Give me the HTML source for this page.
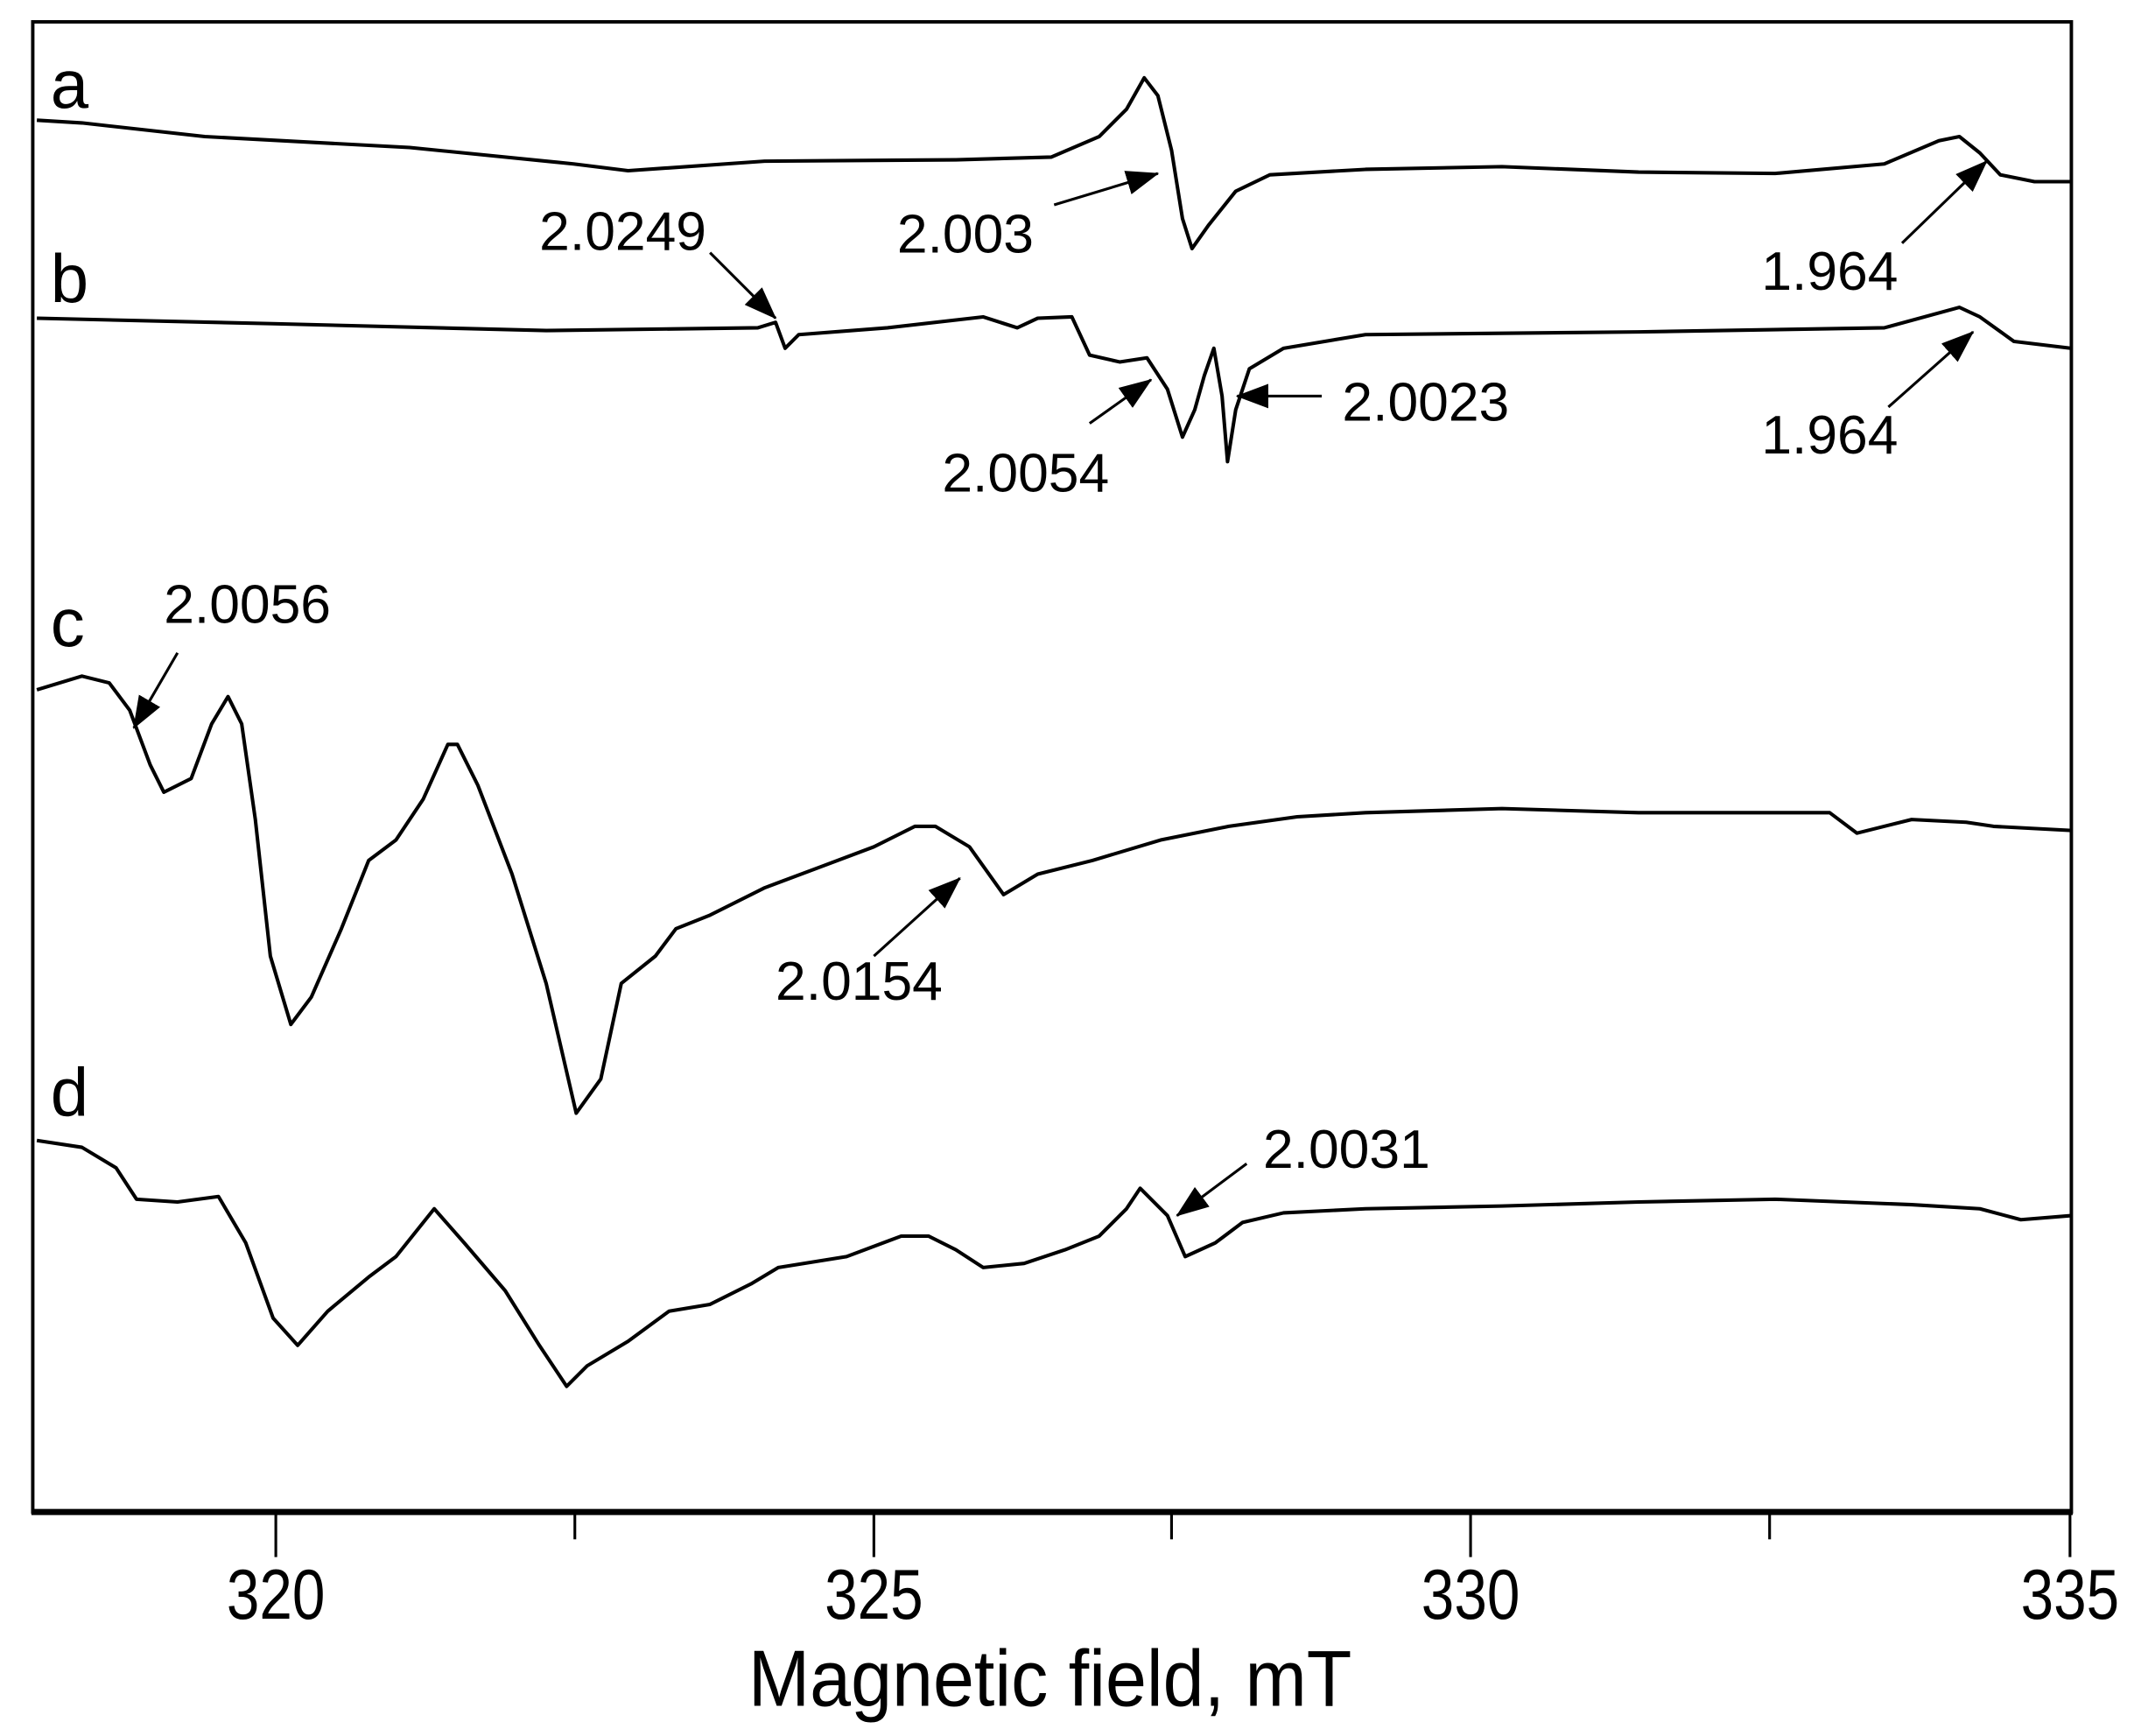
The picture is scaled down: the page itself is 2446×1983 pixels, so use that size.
<!DOCTYPE html>
<html><head><meta charset="utf-8"><style>html,body{margin:0;padding:0;background:#fff}svg{display:block}</style></head>
<body>
<svg width="2446" height="1983" viewBox="0 0 1568 1271" preserveAspectRatio="none" xmlns="http://www.w3.org/2000/svg">
<defs>
<marker id="ah2" markerWidth="24" markerHeight="18" refX="23" refY="9" orient="auto" markerUnits="userSpaceOnUse"><path d="M0,0 L24,9 L0,18 z" fill="#000"/></marker></defs>
<rect x="24" y="16" width="1493" height="1091" fill="none" stroke="#000" stroke-width="2.5"/>
<line x1="23" y1="1107" x2="1518" y2="1107" stroke="#000" stroke-width="4.5"/>
<g stroke="#000" stroke-width="2">
<line x1="202" y1="1107" x2="202" y2="1140"/><line x1="640" y1="1107" x2="640" y2="1140"/><line x1="1077" y1="1107" x2="1077" y2="1140"/><line x1="1516" y1="1107" x2="1516" y2="1140"/>
<line x1="421" y1="1107" x2="421" y2="1127"/><line x1="858" y1="1107" x2="858" y2="1127"/><line x1="1296" y1="1107" x2="1296" y2="1127"/>
</g>
<g font-family="Liberation Sans, Arial, sans-serif" fill="#000">
<g font-size="47" text-anchor="middle"><text transform="translate(202,1185) scale(0.92,1.1)">320</text><text transform="translate(640,1185) scale(0.92,1.1)">325</text><text transform="translate(1077,1185) scale(0.92,1.1)">330</text><text transform="translate(1516,1185) scale(0.92,1.1)">335</text></g>
<text transform="translate(548,1249) scale(1,1.08)" font-size="54" textLength="442" lengthAdjust="spacingAndGlyphs">Magnetic field, mT</text>
<g font-size="50"><text x="37" y="79">a</text><text x="37" y="221">b</text><text x="37" y="473">c</text><text x="37" y="817">d</text></g>
<g font-size="40">
<text x="657" y="185">2.003</text><text x="1290" y="212">1.964</text>
<text x="395" y="183">2.0249</text><text x="690" y="360">2.0054</text><text x="983" y="308">2.0023</text><text x="1290" y="332">1.964</text>
<text x="120" y="456">2.0056</text><text x="568" y="732">2.0154</text><text x="925" y="855">2.0031</text>
</g></g>
<g stroke="#000" stroke-width="2" marker-end="url(#ah2)">
<line x1="772" y1="150" x2="848" y2="127"/><line x1="1393" y1="178" x2="1455" y2="118"/>
<line x1="520" y1="185" x2="568" y2="233"/><line x1="798" y1="310" x2="843" y2="278"/><line x1="968" y1="290" x2="906" y2="290"/><line x1="1383" y1="298" x2="1445" y2="243"/>
<line x1="130" y1="478" x2="98" y2="533"/><line x1="640" y1="700" x2="703" y2="643"/><line x1="913" y1="852" x2="862" y2="890"/>
</g>
<g fill="none" stroke="#000" stroke-width="2.6" stroke-linejoin="round">
<polyline points="27,88 60,90 150,100 300,108 420,120 460,125 560,118 700,117 770,115 805,100 825,80 838,57 848,70 858,110 866,160 873,182 885,165 905,140 930,128 1000,124 1100,122 1200,126 1300,127 1380,120 1420,103 1435,100 1450,112 1465,128 1490,133 1517,133"/>
<polyline points="27,233 200,237 400,242 555,240 568,236 575,255 585,245 650,240 720,232 745,240 760,233 785,232 798,260 820,265 840,262 855,285 866,320 875,300 882,275 889,255 895,290 899,338 905,300 915,270 940,255 1000,245 1200,243 1380,240 1435,225 1450,232 1475,250 1517,255"/>
<polyline points="27,505 60,495 80,500 95,520 110,560 120,580 140,570 155,530 167,510 177,530 187,600 198,700 213,750 228,730 250,680 270,630 290,615 310,585 328,545 335,545 350,575 375,640 400,720 422,815 440,790 455,720 480,700 495,680 520,670 560,650 600,635 640,620 670,605 685,605 710,620 735,655 760,640 800,630 850,615 900,605 950,598 1000,595 1100,592 1200,595 1340,595 1360,610 1400,600 1440,602 1460,605 1517,608"/>
<polyline points="27,835 60,840 85,855 100,878 130,880 160,876 180,910 200,965 218,985 240,960 270,935 290,920 310,895 318,885 340,910 370,945 395,985 415,1015 430,1000 460,982 490,960 520,955 550,940 570,928 620,920 660,905 680,905 700,915 720,928 750,925 780,915 805,905 825,885 835,870 855,890 868,920 890,910 910,895 940,888 1000,885 1100,883 1200,880 1300,878 1400,882 1450,885 1480,893 1517,890"/>
</g>
</svg>
</body></html>
